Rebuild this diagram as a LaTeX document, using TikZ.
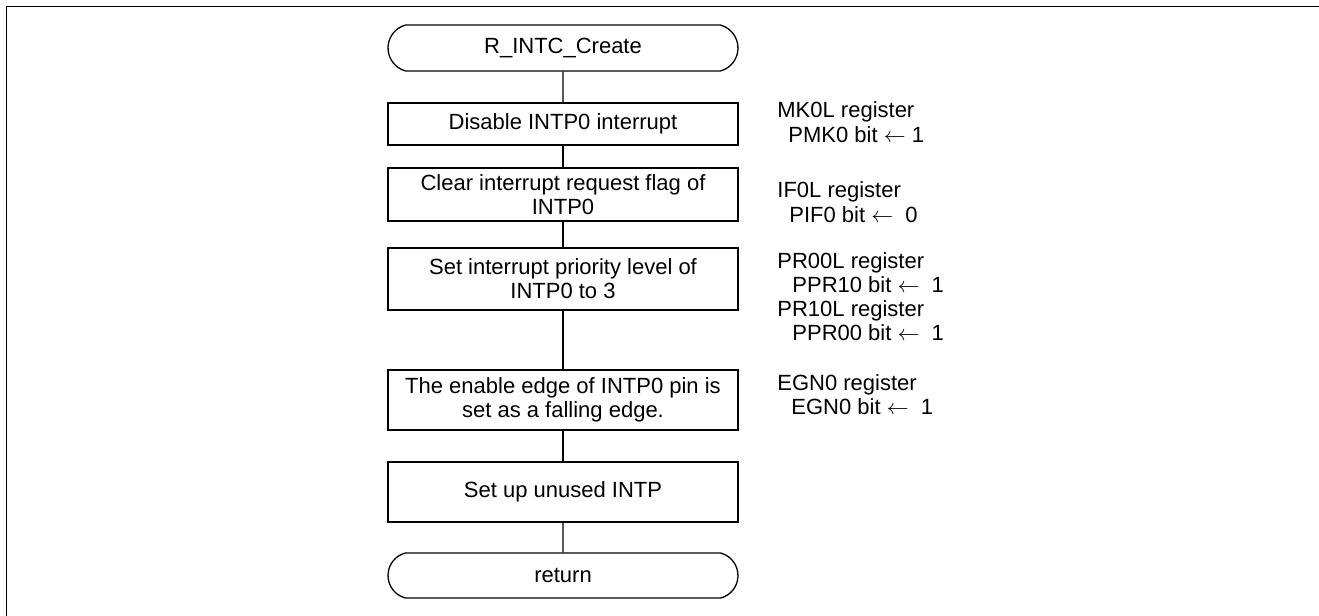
\documentclass[tikz,border=0pt]{standalone}
\usepackage{fontspec}
\setmainfont{Liberation Sans}
\usetikzlibrary{shapes.misc}
\newcommand{\larr}{$\leftarrow$}
\begin{document}
\begin{tikzpicture}[x=0.5pt,y=-0.5pt,
  every node/.style={font=\fontsize{11}{12}\selectfont},
  procbox/.style={draw,line width=0.65pt,minimum width=175pt,align=center,inner sep=0pt},
  termbox/.style={draw,line width=0.65pt,rounded rectangle,rounded rectangle arc length=150,minimum width=175pt,inner sep=0pt},
  reg/.style={anchor=base west,inner sep=0pt},
  conn/.style={line width=0.55pt}]
\useasboundingbox (0,0) rectangle (1319,616);
\draw[line width=0.85pt] (6.5,620) -- (6.5,6.5) -- (1325,6.5);
% flow
\node[termbox,minimum height=23pt] (start) at (563,48) {R\_INTC\_Create};
\node[procbox,minimum height=21pt] (b1) at (563,124) {Disable INTP0 interrupt};
\node[procbox,minimum height=26.5pt] (b2) at (563,194.5) {Clear interrupt request flag of\\INTP0};
\node[procbox,minimum height=31pt] (b3) at (563,279) {Set interrupt priority level of\\INTP0 to 3};
\node[procbox,minimum height=30pt] (b4) at (563,400) {The enable edge of INTP0 pin is\\set as a falling edge.};
\node[procbox,minimum height=30pt] (b5) at (563,492) {Set up unused INTP};
\node[termbox,minimum height=22.5pt] (end) at (563,575.5) {return};
\draw[conn] (start) -- (b1);
\draw[conn] (b1) -- (b2);
\draw[conn] (b2) -- (b3);
\draw[conn] (b3) -- (b4);
\draw[conn] (b4) -- (b5);
\draw[conn] (b5) -- (end);
% register notes
\node[reg] (r1a) at (777,117) {MK0L register};
\node[reg] (r1b) at (788,142) {PMK0 bit \larr\ 1};
\node[reg] (r2a) at (777,197) {IF0L register};
\node[reg] (r2b) at (789,222) {PIF0 bit \larr\ \ 0};
\node[reg] (r3a) at (777,268) {PR00L register};
\node[reg] (r3b) at (792,292) {PPR10 bit \larr\ \ 1};
\node[reg] (r3c) at (777,316) {PR10L register};
\node[reg] (r3d) at (792,340) {PPR00 bit \larr\ \ 1};
\node[reg] (r4a) at (777,390) {EGN0 register};
\node[reg] (r4b) at (791,414) {EGN0 bit \larr\ \ 1};
\end{tikzpicture}
\end{document}
